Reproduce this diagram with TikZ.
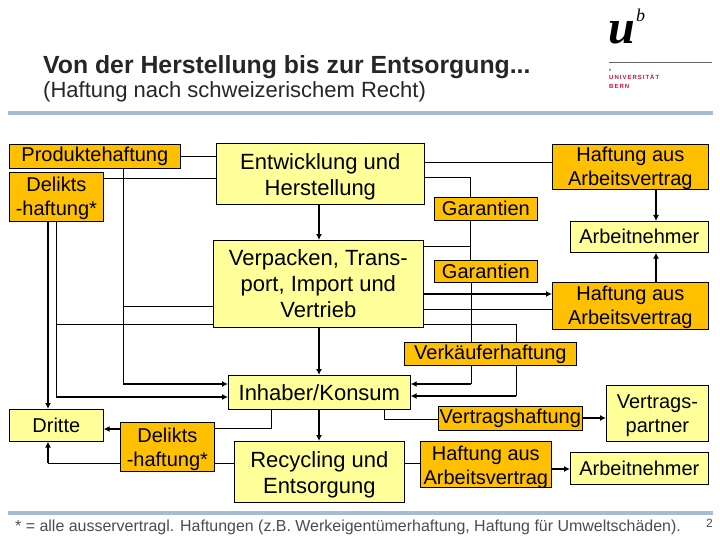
\documentclass[tikz,border=0pt]{standalone}
\usepackage{fontspec}
\setmainfont{Liberation Sans}
\newfontfamily\logoserif{Liberation Serif}
\usetikzlibrary{arrows.meta}
\definecolor{palebox}{HTML}{FFFF99}
\definecolor{orangebox}{HTML}{FFC000}
\definecolor{rulecol}{HTML}{A3BDD3}
\definecolor{logored}{HTML}{C8103E}
\tikzset{
 boxbase/.style={draw=black,line width=0.7pt,inner sep=0pt,align=center,font=\fontsize{22}{26}\selectfont,text=black},
 pale/.style={boxbase,fill=palebox},
 orange/.style={boxbase,fill=orangebox},
 small/.style={font=\fontsize{20}{24}\selectfont},
 thin line/.style={line width=0.7pt},
 thick line/.style={line width=1.6pt,-{Latex[length=6pt,width=6pt]}},
 mid line/.style={line width=1.2pt,-{Latex[length=6pt,width=6pt]}},
}
\newcommand{\boxat}[7]{% style,name,x1,y1,x2,y2,text
 \node[#1,minimum width={(#5-#3)*1pt},minimum height={(#6-#4)*1pt},anchor=north west] (#2) at (#3,#4) {#7};}
\newcommand{\boxdown}[8]{% style,name,x1,y1,x2,y2,text,drop
 \node[#1,minimum width={(#5-#3)*1pt},minimum height={(#6-#4)*1pt},anchor=north west] (#2) at (#3,#4) {};
 \node[#1,draw=none,fill=none] (#2-text) at ([yshift=-#8]#2.center) {#7};}
\begin{document}
\begin{tikzpicture}[x=1pt,y=-1pt]
\useasboundingbox (0,0) rectangle (720,540);
\fill[white] (0,0) rectangle (720,540);

% rules
\fill[rulecol] (8,111) rectangle (713,115);
\fill[rulecol] (8,511) rectangle (713,515);

% title
\node[anchor=base west,inner sep=0pt,font=\fontsize{24.8}{28}\selectfont\bfseries,text=black!85] (title) at (43,74) {Von der Herstellung bis zur Entsorgung...};
\node[anchor=base west,inner sep=0pt,font=\fontsize{22}{24}\selectfont,text=black!85] (subtitle) at (43,98) {(Haftung nach schweizerischem Recht)};

% logo
\node[anchor=base west,inner sep=0pt,font=\fontsize{48}{48}\selectfont\logoserif\bfseries\itshape] (logou) at (608,44) {u};
\node[anchor=base west,inner sep=0pt,font=\fontsize{18}{18}\selectfont\logoserif\itshape] (logob) at (636,22) {b};
\fill[black!60] (609,62.5) rectangle (712,63.5);
\node[anchor=base west,inner sep=0pt,font=\fontsize{4}{4}\selectfont\logoserif\itshape] (logob2) at (609,72) {b};
\node[anchor=base west,inner sep=0pt,font=\fontsize{6}{6}\selectfont\bfseries,text=logored] (logo1) at (609,80) {U\,N\,I\,V\,E\,R\,S\,I\,T\,Ä\,T};
\node[anchor=base west,inner sep=0pt,font=\fontsize{6}{6}\selectfont\bfseries,text=logored] (logo2) at (609,89) {B\,E\,R\,N};

% boxes
\boxat{orange,small}{prod}{9}{144}{180}{168}{Produktehaftung}
\boxdown{orange,small}{del1}{9}{172}{103}{221}{Delikts\\-haftung*}{1.5pt}
\boxdown{pale}{entw}{216}{143}{424}{204}{Entwicklung und\\Herstellung}{3pt}
\boxat{pale}{verp}{213}{240}{423}{327}{Verpacken, Trans-\\port, Import und\\Vertrieb}
\boxdown{orange,small}{haft1}{552}{144}{708}{189}{Haftung aus\\Arbeitsvertrag}{1pt}
\boxat{orange,small}{gar1}{434}{197}{537}{220}{Garantien}
\boxat{pale,small}{arb1}{570}{221}{708}{252}{Arbeitnehmer}
\boxat{orange,small}{gar2}{434}{260}{537}{282}{Garantien}
\boxdown{orange,small}{haft2}{552}{282}{708}{329}{Haftung aus\\Arbeitsvertrag}{1.5pt}
\boxat{orange,small}{verk}{404}{342}{576}{365}{Verkäuferhaftung}
\boxat{pale}{inh}{228}{375}{410}{409}{Inhaber/Konsum}
\boxat{pale,small}{dritte}{9}{409}{103}{441}{Dritte}
\boxdown{orange,small}{del2}{120}{422}{214}{471}{Delikts\\-haftung*}{2pt}
\boxdown{pale}{recy}{234}{441}{404}{502}{Recycling und\\Entsorgung}{3pt}
\boxat{orange,small}{vhaft}{438}{406}{582}{430}{Vertragshaftung}
\boxdown{pale,small}{vpart}{606}{385}{708}{441}{Vertrags-\\partner}{2pt}
\boxdown{orange,small}{haft3}{420}{441}{551}{487}{Haftung aus\\Arbeitsvertrag}{3pt}
\boxat{pale,small}{arb2}{570}{452}{708}{484}{Arbeitnehmer}

% connector waypoints
\coordinate (pdrop) at (prod.south -| 123,0);
\coordinate (pknee) at (123,306);
\coordinate (pturn) at (123,384);
\coordinate (dtop) at (del1.south -| 56,0);
\coordinate (dknee) at (56,324);
\coordinate (dturn) at (56,397);
\coordinate (vk1) at (471,384);
\coordinate (vk2) at (516,396);
\coordinate (rleft) at (48,463);

% thin connectors
\draw[thin line] (prod.east |- 0,156) -- (entw.west |- 0,156);
\draw[thin line] (del1.east |- 0,178) -- (entw.west |- 0,178);
\draw[thin line] (pdrop) -- (pturn);
\draw[thin line] (pknee) -- (verp.west |- pknee);
\draw[thin line] (dtop) -- (dturn);
\draw[thin line] (dknee) -- (verp.west |- dknee);
\draw[thin line] (entw.east |- 0,162) -- (haft1.west |- 0,162);
\draw[thin line] (entw.east |- 0,177) -- (470,177) -- (gar1.north -| 470,0);
\draw[thin line] (gar1.south -| 470,0) -- (gar2.north -| 470,0);
\draw[thin line] (verp.east |- 0,246) -- (470,246);
\draw[thin line] (gar2.south -| 471,0) -- (verk.north -| 471,0);
\draw[thin line] (verp.east |- 0,309) -- (haft2.west |- 0,309);
\draw[thin line] (verp.east |- 0,324) -- (516,324) -- (verk.north -| 516,0);
\draw[thin line] (inh.south -| 384,0) -- (384,419) -- (vhaft.west |- 0,419);
\draw[thin line] (recy.east |- 0,463) -- (haft3.west |- 0,463);
\draw[thin line] (inh.south -| 271,0) -- (271,428) -- (del2.east |- 0,428);
\draw[thin line] (recy.west |- 0,463) -- (del2.east |- 0,463);
\draw[thin line] (verk.south -| vk1) -- (vk1);
\draw[thin line] (verk.south -| vk2) -- (vk2);
\draw[thin line] (del2.west |- rleft) -- (rleft);

% thick connectors
\draw[thick line] (del1.south -| 48,0) -- (dritte.north -| 48,0);
\draw[thick line] (pturn) -- (inh.west |- pturn);
\draw[thick line] (dturn) -- (inh.west |- dturn);
\draw[thick line] (entw.south -| 319,0) -- (verp.north -| 319,0);
\draw[thick line] (verp.south -| 319,0) -- (inh.north -| 319,0);
\draw[thick line] (inh.south -| 319,0) -- (recy.north -| 319,0);
\draw[thick line] (verp.east |- 0,294) -- (haft2.west |- 0,294);
\draw[thick line] (haft1.south -| 656,0) -- (arb1.north -| 656,0);
\draw[thick line] (haft2.north -| 656,0) -- (arb1.south -| 656,0);
\draw[thick line] (vk1) -- (inh.east |- vk1);
\draw[thick line] (vk2) -- (inh.east |- vk2);
\draw[thick line] (vhaft.east |- 0,418) -- (vpart.west |- 0,418);
\draw[thick line] (haft3.east |- 0,469) -- (arb2.west |- 0,469);
\draw[thick line] (del2.west |- 0,429) -- (dritte.east |- 0,429);
\draw[mid line] (rleft) -- (dritte.south -| rleft);

% footer
\node[anchor=base west,inner sep=0pt,font=\fontsize{15.95}{20}\selectfont,text=black!70] (foot) at (15,531) {* = alle ausservertragl. Haftungen (z.B. Werkeigentümerhaftung, Haftung für Umweltschäden).};
\node[anchor=base east,inner sep=0pt,font=\fontsize{12}{14}\selectfont,text=black!70] (pg) at (713,527) {2};
\end{tikzpicture}
\end{document}
